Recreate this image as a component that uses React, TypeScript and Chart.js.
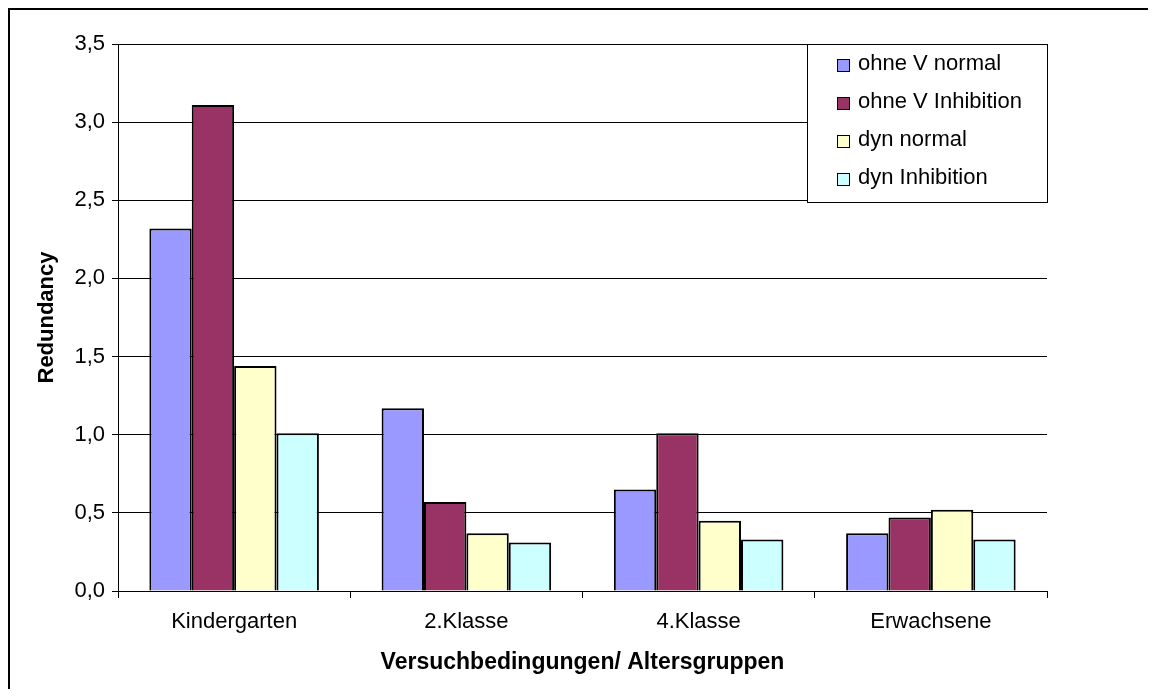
import React, { useEffect, useRef } from "react";
import { Chart, registerables } from "chart.js";

Chart.register(...registerables);

const categories = ["Kindergarten", "2.Klasse", "4.Klasse", "Erwachsene"];
const seriesLabels = ["ohne V normal", "ohne V Inhibition", "dyn normal", "dyn Inhibition"];
const ohneVNormal = [2.32, 1.17, 0.65, 0.37];
const ohneVInhibition = [3.11, 0.57, 1.01, 0.47];
const dynNormal = [1.44, 0.37, 0.45, 0.52];
const dynInhibition = [1.01, 0.31, 0.33, 0.33];
const yTickLabels = ["0,0", "0,5", "1,0", "1,5", "2,0", "2,5", "3,0", "3,5"];
const seriesColors = ["#9999FF", "#993366", "#FFFFCC", "#CCFFFF"];

const FONT = "'Liberation Sans', Arial, sans-serif";

const legendPlugin = {
  id: "boxLegend",
  afterDraw(chart: any) {
    const ctx = chart.ctx;
    const area = chart.chartArea;
    const boxRight = area.right;
    const boxLeft = boxRight - 240;
    const boxTop = area.top;
    const boxH = 158;
    ctx.save();
    ctx.fillStyle = "#ffffff";
    ctx.fillRect(boxLeft, boxTop, 240, boxH);
    ctx.strokeStyle = "#000000";
    ctx.lineWidth = 1;
    ctx.strokeRect(boxLeft + 0.5, boxTop + 0.5, 240, boxH);
    ctx.font = "22px " + FONT;
    ctx.textBaseline = "middle";
    ctx.textAlign = "left";
    chart.data.datasets.forEach((ds: any, i: number) => {
      const cy = boxTop + 20 + i * 38;
      ctx.fillStyle = ds.backgroundColor;
      ctx.fillRect(boxLeft + 30, cy - 5, 12, 12);
      ctx.strokeStyle = "#000000";
      ctx.strokeRect(boxLeft + 30.5, cy - 4.5, 12, 12);
      ctx.fillStyle = "#000000";
      ctx.fillText(ds.label, boxLeft + 51, cy);
    });
    ctx.restore();
  },
};

const framePlugin = {
  id: "frame",
  afterDraw(chart: any) {
    const ctx = chart.ctx;
    ctx.save();
    ctx.fillStyle = "#000000";
    ctx.fillRect(0, 0, chart.width, 2);
    ctx.fillRect(0, 0, 2, chart.height);
    ctx.restore();
  },
};

export default function App() {
  const ref = useRef<HTMLCanvasElement | null>(null);

  useEffect(() => {
    document.documentElement.style.overflow = "hidden";
    document.body.style.overflow = "hidden";
    const values = [ohneVNormal, ohneVInhibition, dynNormal, dynInhibition];
    const chart = new Chart(ref.current as HTMLCanvasElement, {
      type: "bar",
      data: {
        labels: categories,
        datasets: values.map((v, i) => ({
          label: seriesLabels[i],
          data: v,
          backgroundColor: seriesColors[i],
          borderColor: "#000000",
          borderWidth: 2,
          categoryPercentage: 0.73,
          barPercentage: 1.0,
        })),
      },
      options: {
        responsive: false,
        animation: false,
        devicePixelRatio: 1,
        layout: { padding: { left: 0, right: 101, top: 36, bottom: 0 } },
        plugins: {
          legend: { display: false },
          tooltip: { enabled: false },
        },
        scales: {
          x: {
            grid: {
              offset: true,
              drawOnChartArea: false,
              drawTicks: true,
              tickLength: 7,
              color: "#000000",
            },
            border: { display: true, color: "#000000", width: 1 },
            ticks: {
              color: "#000000",
              font: { family: FONT, size: 22 },
              padding: 11,
            },
            title: {
              display: true,
              text: "Versuchbedingungen/ Altersgruppen",
              color: "#000000",
              font: { family: FONT, size: 23, weight: "bold" },
              padding: { top: 0, bottom: 13 },
            },
            afterFit: (s: any) => {
              s.height = 98;
            },
          },
          y: {
            min: 0,
            max: 3.5,
            ticks: {
              stepSize: 0.5,
              color: "#000000",
              font: { family: FONT, size: 22 },
              padding: 7,
              callback: (_v: any, i: number) => yTickLabels[i],
            },
            grid: {
              color: "#000000",
              drawTicks: true,
              tickLength: 6,
              lineWidth: 1,
            },
            border: { display: true, color: "#000000", width: 1 },
            title: {
              display: true,
              text: "Redundancy",
              color: "#000000",
              font: { family: FONT, size: 22, weight: "bold" },
              padding: { top: 26, bottom: 0 },
            },
            afterFit: (s: any) => {
              s.width = 110;
            },
          },
        },
      },
      plugins: [legendPlugin, framePlugin],
    });
    return () => chart.destroy();
  }, []);

  return (
    <div style={{ width: 1140, height: 681 }}>
      <canvas ref={ref} width={1140} height={681} style={{ display: "block", width: 1140, height: 681 }} />
    </div>
  );
}
